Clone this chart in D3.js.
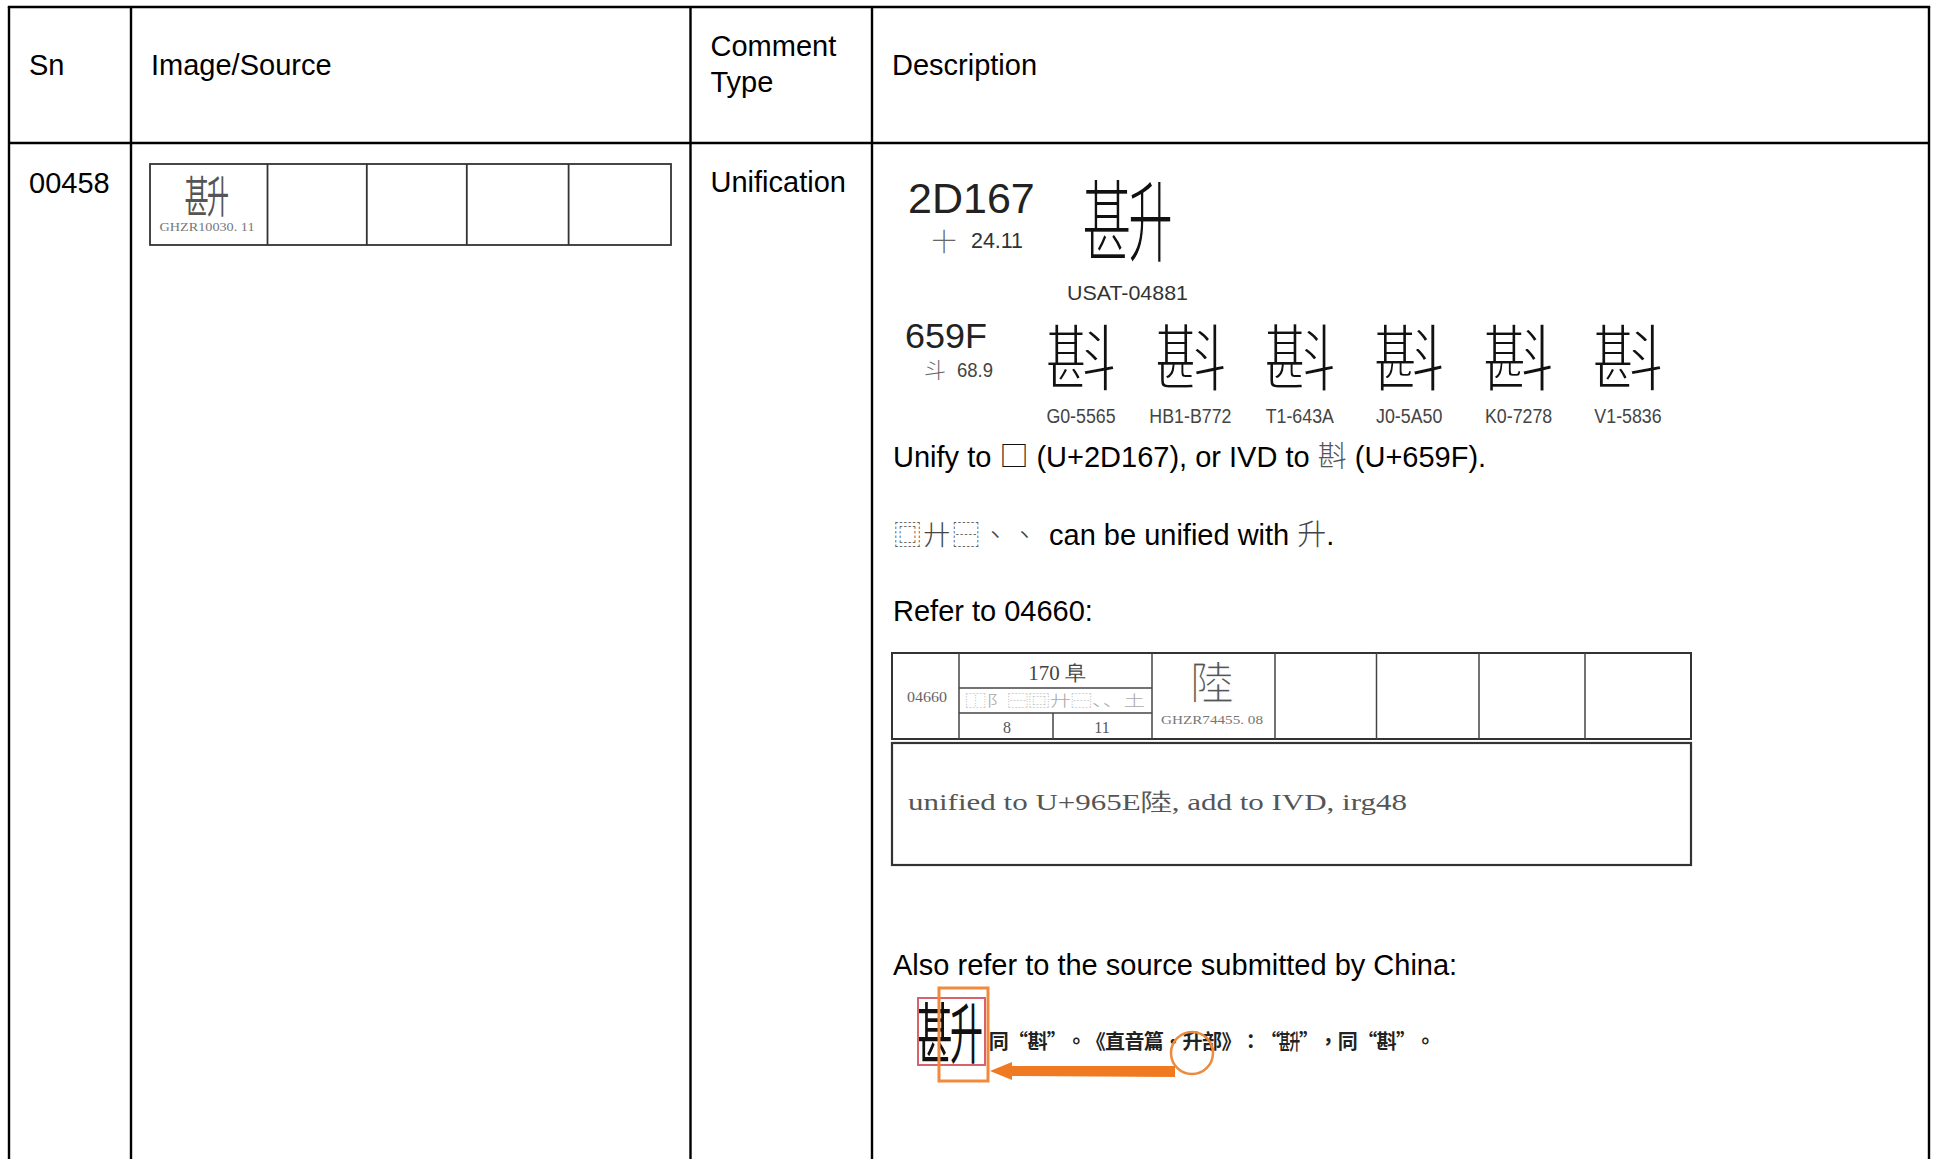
<!DOCTYPE html>
<html><head><meta charset="utf-8">
<script src="https://cdn.jsdelivr.net/npm/d3@7"></script>
<style>html,body{margin:0;padding:0;background:#fff;} svg{display:block}</style>
</head><body>
<script>
// ---------------- data ----------------
const headers = ["Sn", "Image/Source", "Comment Type", "Description"];
const serialNumbers = ["00458"];
const commentTypes = ["Unification"];
const sourceSlots = ["GHZR10030. 11", "", "", "", ""];
const proposedCode = ["2D167", "十", "24.11", "USAT-04881"];
const ivdCode = ["659F", "斗", "68.9"];
const variantSources = ["G0-5565", "HB1-B772", "T1-643A", "J0-5A50", "K0-7278", "V1-5836"];
const variantFonts = ["Noto Sans CJK SC", "Noto Sans CJK TC", "Noto Sans CJK TC", "Noto Sans CJK JP", "Noto Sans CJK KR", "Noto Sans CJK SC"];
const variantChar = "斟";
const noteLines = ["Unify to ", "□", " (U+2D167), or IVD to ", "斟", " (U+659F)."];
const idsLine = ["⿴廾⿱、、", "can be unified with ", "升", "."];
const referLine = "Refer to 04660:";
const refRow = ["04660", "170 阜", "⿰阝⿱⿴廾⿱、、土", "8", "11", "陸", "GHZR74455. 08"];
const refNote = "unified to U+965E陸, add to IVD, irg48";
const alsoLine = "Also refer to the source submitted by China:";
const chinaQuote = "同“斟”。《直音篇·升部》：“𭅧”，同“斟”。";
const NEW_CHAR = "𭅧"; // U+2D167 (甚 + 升), drawn as a composite

// ---------------- layout ----------------
const W = 1937, H = 1159;
const svg = d3.select("body").append("svg").attr("width", W).attr("height", H)
  .style("background", "#fff");
const SANS = "Arial, 'Liberation Sans', sans-serif";
const SERIF = "'Liberation Serif', 'DejaVu Serif', serif";
const CJK = "'Noto Sans CJK SC', sans-serif";
const CJK_TC = "'Noto Sans CJK TC', sans-serif";

const colX = d3.scaleOrdinal().domain(d3.range(5)).range([9, 131, 690.5, 872, 1929]);
const tableTop = 7, headBottom = 143;

// table grid
const grid = svg.append("g").attr("stroke", "#000").attr("stroke-width", 2.4);
grid.append("line").attr("x1", colX(0) - 1.2).attr("x2", colX(4) + 1.2).attr("y1", tableTop).attr("y2", tableTop);
grid.append("line").attr("x1", colX(0)).attr("x2", colX(4)).attr("y1", headBottom).attr("y2", headBottom);
grid.selectAll("line.v").data(d3.range(5)).join("line").attr("class", "v")
  .attr("x1", i => colX(i)).attr("x2", i => colX(i)).attr("y1", tableTop).attr("y2", H + 10);

// headers
const hdr = svg.append("g").style("font-family", SANS).style("font-size", "29px").attr("fill", "#000");
headers.forEach((h, i) => {
  const t = hdr.append("text").attr("x", colX(i) + 20).attr("y", 75);
  if (h === "Comment Type") {
    t.attr("y", 56);
    t.append("tspan").attr("x", colX(i) + 20).text("Comment");
    t.append("tspan").attr("x", colX(i) + 20).attr("dy", 36).text("Type");
  } else t.text(h);
});

// row cells
const body = svg.append("g").style("font-family", SANS).style("font-size", "29px").attr("fill", "#000");
body.append("text").attr("x", colX(0) + 20).attr("y", 193).text(serialNumbers[0]);
body.append("text").attr("x", colX(2) + 20).attr("y", 192).text(commentTypes[0]);

// thin a CJK glyph with a white outline so it reads like a Ming/Song face
function thin(sel, w) {
  return sel.attr("stroke", "#fff").attr("stroke-width", w).attr("paint-order", "fill");
}

// composite glyph (甚 + 升) for U+2D167, which no installed font covers
function composite(g, cx, baseline, size, fill, weight, thinW) {
  const cg = g.append("g").attr("fill", fill).style("font-family", CJK)
    .style("font-size", size + "px").style("font-weight", weight || 400).attr("text-anchor", "middle");
  const a = cg.append("text").attr("transform", `translate(${cx - size * 0.235},${baseline}) scale(0.55,1)`).text("甚");
  const b = cg.append("text").attr("transform", `translate(${cx + size * 0.25},${baseline}) scale(0.5,1)`).text("升");
  if (thinW) { thin(a, thinW); thin(b, thinW); }
  return cg;
}

// source box
const srcX = d3.scaleOrdinal().domain(d3.range(6)).range([150, 267.5, 366.8, 466.8, 568.6, 671]);
const srcG = svg.append("g");
srcG.append("rect").attr("x", srcX(0)).attr("y", 164).attr("width", srcX(5) - srcX(0)).attr("height", 81)
  .attr("fill", "none").attr("stroke", "#333").attr("stroke-width", 1.8);
srcG.selectAll("line").data(d3.range(1, 5)).join("line")
  .attr("x1", i => srcX(i)).attr("x2", i => srcX(i)).attr("y1", 164).attr("y2", 245)
  .attr("stroke", "#333").attr("stroke-width", 1.8);
composite(srcG, 207, 213, 44, "#555");
srcG.append("text").attr("x", 207).attr("y", 231).attr("text-anchor", "middle")
  .attr("textLength", 95).attr("lengthAdjust", "spacingAndGlyphs")
  .style("font-family", SERIF).style("font-size", "12px").attr("fill", "#777").text(sourceSlots[0]);

// description block
const dg = svg.append("g");
dg.append("text").attr("x", 908).attr("y", 213).style("font-family", SANS).style("font-size", "43px")
  .attr("fill", "#222").text(proposedCode[0]);
dg.append("text").attr("x", 944).attr("y", 251).attr("text-anchor", "middle").style("font-family", CJK)
  .style("font-size", "25px").style("font-weight", 300).attr("fill", "#666").text(proposedCode[1]);
dg.append("text").attr("x", 971).attr("y", 248).style("font-family", SANS).style("font-size", "22px")
  .attr("textLength", 52).attr("lengthAdjust", "spacingAndGlyphs").attr("fill", "#333").text(proposedCode[2]);
composite(dg, 1128, 255, 90, "#111", 400, 2.2);
dg.append("text").attr("x", 1067).attr("y", 300).style("font-family", SANS).style("font-size", "21px")
  .attr("textLength", 121).attr("lengthAdjust", "spacingAndGlyphs").attr("fill", "#333").text(proposedCode[3]);

dg.append("text").attr("x", 905).attr("y", 348).style("font-family", SANS).style("font-size", "35px")
  .attr("textLength", 82).attr("lengthAdjust", "spacingAndGlyphs").attr("fill", "#222").text(ivdCode[0]);
dg.append("text").attr("x", 935).attr("y", 378).attr("text-anchor", "middle").style("font-family", CJK)
  .style("font-size", "22px").style("font-weight", 300).attr("fill", "#666").text(ivdCode[1]);
dg.append("text").attr("x", 957).attr("y", 377).style("font-family", SANS).style("font-size", "21px")
  .attr("textLength", 36).attr("lengthAdjust", "spacingAndGlyphs").attr("fill", "#444").text(ivdCode[2]);

const vx = d3.scalePoint().domain(variantSources).range([1081, 1628]);
const vg = dg.selectAll("g.var").data(variantSources).join("g").attr("class", "var");
thin(vg.append("text").attr("x", s => vx(s)).attr("y", 385).attr("text-anchor", "middle")
  .style("font-family", (s, i) => `'${variantFonts[i]}', sans-serif`).style("font-size", "73px")
  .attr("fill", "#111").text(variantChar), 2.2);
vg.append("text").attr("transform", s => `translate(${vx(s)},423) scale(0.89,1)`).attr("text-anchor", "middle")
  .style("font-family", SANS).style("font-size", "20px").attr("fill", "#444").text(s => s);

// note lines
const n1 = dg.append("text").attr("x", 893).attr("y", 467).style("font-family", SANS).style("font-size", "29px").attr("fill", "#000");
n1.append("tspan").text(noteLines[0]);
n1.append("tspan").style("font-family", CJK).attr("fill", "#111").text(noteLines[1]);
n1.append("tspan").text(noteLines[2]);
n1.append("tspan").style("font-family", CJK).style("font-weight", 300).attr("fill", "#555").text(noteLines[3]);
n1.append("tspan").text(noteLines[4]);

const idsChars = Array.from(idsLine[0]);
const ix = d3.scaleBand().domain(d3.range(idsChars.length)).range([893, 1039]);
dg.selectAll("text.ids").data(idsChars).join("text").attr("class", "ids")
  .attr("x", (c, i) => ix(i) + ix.bandwidth() / 2).attr("y", 545).attr("text-anchor", "middle")
  .style("font-family", CJK_TC).style("font-size", "27px").style("font-weight", 300).attr("fill", "#444")
  .text(c => c);
const n2 = dg.append("text").attr("x", 1049).attr("y", 545).style("font-family", SANS).style("font-size", "29px").attr("fill", "#000");
n2.append("tspan").text(idsLine[1]);
n2.append("tspan").style("font-family", CJK).style("font-weight", 300).attr("fill", "#444").text(idsLine[2]);
n2.append("tspan").text(idsLine[3]);

dg.append("text").attr("x", 893).attr("y", 621).style("font-family", SANS).style("font-size", "29px").text(referLine);

// reference row image (04660)
const rx = d3.scaleOrdinal().domain(d3.range(8)).range([892, 959, 1152, 1275, 1376.5, 1479, 1585, 1691]);
const ref = dg.append("g");
ref.append("rect").attr("x", rx(0)).attr("y", 653).attr("width", rx(7) - rx(0)).attr("height", 86)
  .attr("fill", "none").attr("stroke", "#333").attr("stroke-width", 2);
ref.selectAll("line.c").data(d3.range(1, 7)).join("line").attr("class", "c")
  .attr("x1", c => rx(c)).attr("x2", c => rx(c)).attr("y1", 653).attr("y2", 739)
  .attr("stroke", "#444").attr("stroke-width", 1.5);
ref.append("line").attr("x1", rx(1)).attr("x2", rx(2)).attr("y1", 688).attr("y2", 688).attr("stroke", "#444").attr("stroke-width", 1.5);
ref.append("line").attr("x1", rx(1)).attr("x2", rx(2)).attr("y1", 713).attr("y2", 713).attr("stroke", "#444").attr("stroke-width", 1.5);
ref.append("line").attr("x1", 1053).attr("x2", 1053).attr("y1", 713).attr("y2", 739).attr("stroke", "#444").attr("stroke-width", 1.5);
ref.append("rect").attr("x", rx(0)).attr("y", 743).attr("width", rx(7) - rx(0)).attr("height", 122)
  .attr("fill", "none").attr("stroke", "#333").attr("stroke-width", 2.2);

ref.append("text").attr("x", 927).attr("y", 702).attr("text-anchor", "middle").style("font-family", SERIF)
  .style("font-size", "14px").attr("fill", "#666").attr("textLength", 40).attr("lengthAdjust", "spacingAndGlyphs").text(refRow[0]);
ref.append("text").attr("x", 1057).attr("y", 680).attr("text-anchor", "middle").style("font-family", SERIF)
  .style("font-size", "21px").attr("fill", "#444").text(refRow[1]);
ref.append("text").attr("x", 1055).attr("y", 706).attr("text-anchor", "middle").style("font-family", CJK)
  .style("font-size", "15px").style("font-weight", 300).attr("fill", "#aaa")
  .attr("textLength", 180).attr("lengthAdjust", "spacingAndGlyphs").text(refRow[2]);
ref.append("text").attr("x", 1007).attr("y", 733).attr("text-anchor", "middle").style("font-family", SERIF)
  .style("font-size", "16px").attr("fill", "#555").text(refRow[3]);
ref.append("text").attr("x", 1102).attr("y", 733).attr("text-anchor", "middle").style("font-family", SERIF)
  .style("font-size", "16px").attr("fill", "#555").text(refRow[4]);
thin(ref.append("text").attr("x", 1212).attr("y", 699).attr("text-anchor", "middle").style("font-family", CJK)
  .style("font-size", "44px").attr("fill", "#555").text(refRow[5]), 1.2);
ref.append("text").attr("x", 1212).attr("y", 724).attr("text-anchor", "middle").style("font-family", SERIF)
  .style("font-size", "12px").attr("fill", "#777").attr("textLength", 102).attr("lengthAdjust", "spacingAndGlyphs").text(refRow[6]);
ref.append("text").attr("x", 908).attr("y", 810).style("font-family", SERIF).style("font-size", "24px")
  .attr("fill", "#555").attr("textLength", 499).attr("lengthAdjust", "spacingAndGlyphs").text(refNote);

dg.append("text").attr("x", 893).attr("y", 975).style("font-family", SANS).style("font-size", "29px").text(alsoLine);

// China source excerpt
const cs = dg.append("g");
composite(cs, 950, 1058, 66, "#111", 400);
const qChars = Array.from(chinaQuote);
const qx = d3.scaleBand().domain(d3.range(qChars.length)).range([989, 1435]);
qChars.forEach((ch, i) => {
  const cx = qx(i) + qx.bandwidth() / 2;
  if (ch === NEW_CHAR) composite(cs, cx, 1049, 21, "#222", 700);
  else cs.append("text").attr("x", cx).attr("y", 1049).attr("text-anchor", "middle")
    .style("font-family", CJK_TC).style("font-weight", 700).style("font-size", "20px")
    .attr("fill", "#222").text(ch);
});
cs.append("rect").attr("x", 918).attr("y", 998).attr("width", 67).attr("height", 67)
  .attr("fill", "none").attr("stroke", "#d9636a").attr("stroke-width", 2);
cs.append("rect").attr("x", 939).attr("y", 988).attr("width", 49).attr("height", 93)
  .attr("fill", "none").attr("stroke", "#f28a3c").attr("stroke-width", 3);
cs.append("circle").attr("cx", 1192).attr("cy", 1053).attr("r", 21)
  .attr("fill", "none").attr("stroke", "#ec8a3d").attr("stroke-width", 2.5);
cs.append("path").attr("d", d3.line()([[990, 1071], [1012, 1062], [1012, 1066], [1175, 1066], [1175, 1077], [1012, 1076], [1012, 1080]]) + "Z")
  .attr("fill", "#f07a22");
</script>
</body></html>
